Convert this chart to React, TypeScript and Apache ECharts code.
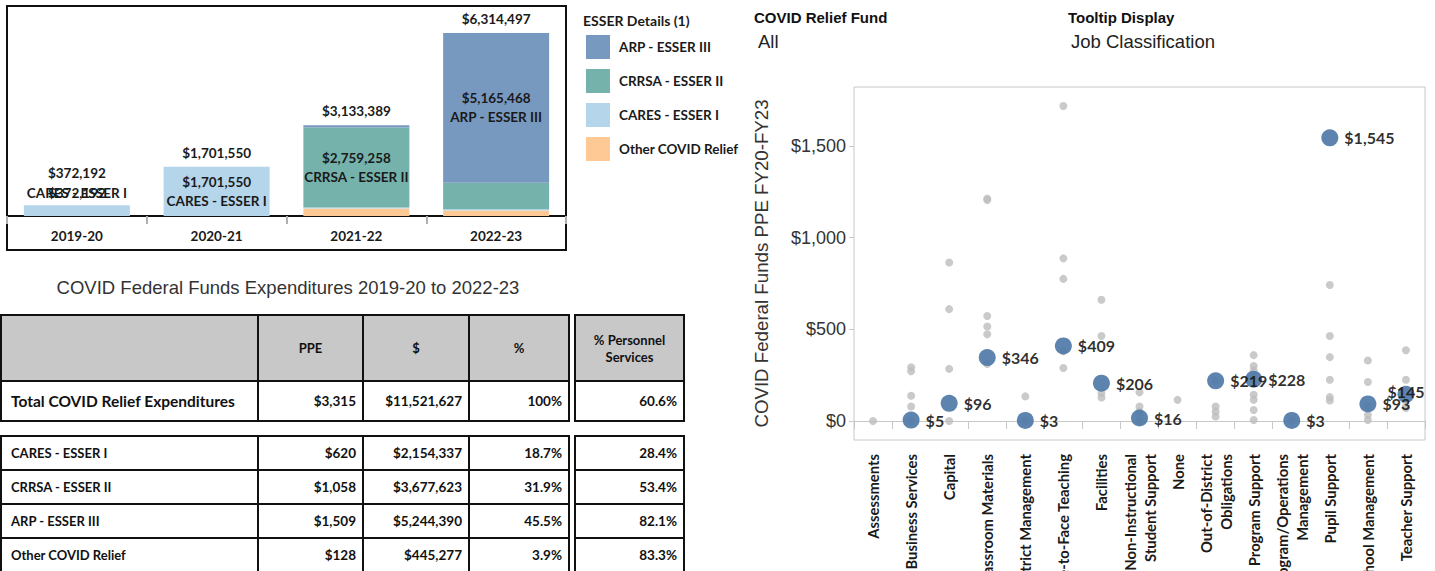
import React, { useEffect, useRef } from 'react';
import * as echarts from 'echarts';

// ---------- Bar chart data ----------
const years = ['2019-20', '2020-21', '2021-22', '2022-23'];
const fundNames = ['Other COVID Relief', 'CARES - ESSER I', 'CRRSA - ESSER II', 'ARP - ESSER III'];
const otherRelief = [0, 0, 255209, 190069];
const caresEsser1 = [372192, 1701550, 40000, 40595];
const crrsaEsser2 = [0, 0, 2759258, 918365];
const arpEsser3 = [0, 0, 78922, 5165468];
const yearTotals = [372192, 1701550, 3133389, 6314497];
const legendOrder = ['ARP - ESSER III', 'CRRSA - ESSER II', 'CARES - ESSER I', 'Other COVID Relief'];

// ---------- Table data ----------
const tableHeader = ['', 'PPE', '$', '%', '% Personnel\nServices'];
const totalLabel = 'Total COVID Relief Expenditures';
const totalPPE = 3315;
const totalDollars = 11521627;
const totalPct = 100;
const totalPersonnel = 60.6;
const fundRows = ['CARES - ESSER I', 'CRRSA - ESSER II', 'ARP - ESSER III', 'Other COVID Relief'];
const fundPPE = [620, 1058, 1509, 128];
const fundDollars = [2154337, 3677623, 5244390, 445277];
const fundPct = [18.7, 31.9, 45.5, 3.9];
const fundPersonnel = [28.4, 53.4, 82.1, 83.3];

// ---------- Scatter data ----------
const jobClasses = [
  'Assessments',
  'Business Services',
  'Capital',
  'Classroom Materials',
  'District Management',
  'Face-to-Face Teaching',
  'Facilities',
  'Non-Instructional\nStudent Support',
  'None',
  'Out-of-District\nObligations',
  'Program Support',
  'Program/Operations\nManagement',
  'Pupil Support',
  'School Management',
  'Teacher Support',
];
const avgPPE: (number | null)[] = [null, 5, 96, 346, 3, 409, 206, 16, null, 219, 228, 3, 1545, 93, 145];
const detailPPE: number[][] = [
  [0],
  [293, 271, 137, 79, 0],
  [864, 610, 284, 0],
  [1213, 1205, 573, 515, 473, 311],
  [134, 0],
  [1718, 887, 775, 380, 289],
  [661, 463, 152, 128],
  [157, 79, 51, 0],
  [115],
  [79, 51, 24, 219],
  [359, 300, 275, 247, 143, 115, 60, 5],
  [0],
  [742, 463, 348, 225, 130, 112],
  [330, 212, 79, 33, 5],
  [386, 225, 79, 70],
];
const yTicks = [0, 500, 1000, 1500];

// ---------- Styles ----------
const LATO = 'Lato, "Noto Sans", sans-serif';
const ARIAL = '"Liberation Sans", Arial, sans-serif';
const fundColors = ['#fec994', '#b5d5eb', '#75b2ac', '#7899bf'];

const money = (v: number) => '$' + Math.round(v).toLocaleString('en-US');
const pct = (v: number) => (v === 100 ? '100%' : v.toFixed(1) + '%');

function buildTable() {
  const els: any[] = [];
  const cols = [
    [1, 258],
    [258, 363],
    [363, 469],
    [469, 569],
    [575, 684],
  ];
  const cell = (c: number, y0: number, y1: number, fill: string) => {
    els.push({
      type: 'rect',
      shape: { x: cols[c][0], y: y0, width: cols[c][1] - cols[c][0], height: y1 - y0 },
      style: { fill, stroke: '#111', lineWidth: 2 },
    });
  };
  const text = (t: string, x: number, y: number, align: string, size: number) => {
    els.push({
      type: 'text',
      x,
      y,
      z: 10,
      style: {
        text: t,
        align,
        verticalAlign: 'middle',
        fontFamily: LATO,
        fontWeight: 'bold',
        fontSize: size,
        lineHeight: 17,
        fill: '#111',
      },
    });
  };
  // header
  const hy0 = 315, hy1 = 381;
  for (let c = 0; c < 5; c++) {
    cell(c, hy0, hy1, '#c8c8c8');
    if (tableHeader[c]) text(tableHeader[c], (cols[c][0] + cols[c][1]) / 2, (hy0 + hy1) / 2, 'center', 13);
  }
  // total row
  const ty0 = 381, ty1 = 421;
  const totalVals = [totalLabel, money(totalPPE), money(totalDollars), pct(totalPct), pct(totalPersonnel)];
  for (let c = 0; c < 5; c++) {
    cell(c, ty0, ty1, '#ffffff');
    if (c === 0) text(totalVals[c], cols[c][0] + 10, (ty0 + ty1) / 2, 'left', 15.5);
    else text(totalVals[c], cols[c][1] - 7, (ty0 + ty1) / 2, 'right', 13.5);
  }
  // fund rows
  const ry0 = 436, rh = 34;
  fundRows.forEach((name, r) => {
    const y0 = ry0 + r * rh, y1 = y0 + rh;
    const vals = [name, money(fundPPE[r]), money(fundDollars[r]), pct(fundPct[r]), pct(fundPersonnel[r])];
    for (let c = 0; c < 5; c++) {
      cell(c, y0, y1, '#ffffff');
      if (c === 0) text(vals[c], cols[c][0] + 10, (y0 + y1) / 2, 'left', 13);
      else text(vals[c], cols[c][1] - 7, (y0 + y1) / 2, 'right', 13.5);
    }
  });
  return els;
}

function buildOption() {
  const fundData = [otherRelief, caresEsser1, crrsaEsser2, arpEsser3];
  const maxTotal = Math.max(...yearTotals);
  const largest = years.map((_, i) => {
    let best = 0;
    fundData.forEach((d, k) => {
      if (d[i] > fundData[best][i]) best = k;
    });
    return best;
  });
  const barLabel = {
    fontFamily: LATO,
    fontWeight: 'bold',
    fontSize: 13.5,
    color: '#1a1a1a',
    lineHeight: 20,
  };

  const barSeries: any[] = fundData.map((d, k) => ({
    type: 'bar',
    name: fundNames[k],
    stack: 'fund',
    xAxisIndex: 0,
    yAxisIndex: 0,
    barWidth: 106,
    barGap: '-100%',
    itemStyle: { color: fundColors[k] },
    data: d.map((v, i) => {
      if (largest[i] !== k) return v;
      const small = v / maxTotal < 0.1;
      return {
        value: v,
        label: {
          show: true,
          position: small ? 'top' : 'inside',
          distance: 2,
          formatter: small ? fundNames[k] : `${money(v)}\n${fundNames[k]}`,
          ...barLabel,
          lineHeight: small ? 20 : 19,
        },
      };
    }),
  }));

  barSeries.push({
    type: 'bar',
    name: 'Total',
    xAxisIndex: 0,
    yAxisIndex: 0,
    barWidth: 106,
    barGap: '-100%',
    itemStyle: { color: 'rgba(0,0,0,0)' },
    silent: true,
    z: 3,
    data: yearTotals.map((v) => {
      const small = v / maxTotal < 0.1;
      return {
        value: v,
        label: {
          show: true,
          position: 'top',
          distance: small ? 2 : 4,
          formatter: small ? `${money(v)}\n${money(v)}` : money(v),
          ...barLabel,
        },
      };
    }),
  });

  const grayData: number[][] = [];
  detailPPE.forEach((arr, i) => arr.forEach((v) => grayData.push([i, v])));
  const blueData: any[] = [];
  avgPPE.forEach((v, i) => {
    if (v === null) return;
    const last = i === jobClasses.length - 1;
    blueData.push(
      last
        ? { value: [i, v], label: { position: 'inside', offset: [0, -3] } }
        : { value: [i, v] }
    );
  });

  const graphic: any[] = [
    // bar chart panel border
    {
      type: 'rect',
      shape: { x: 7, y: 6, width: 559, height: 244 },
      style: { fill: 'none', stroke: '#111', lineWidth: 2 },
      z: 0,
    },
    {
      type: 'text',
      x: 583,
      y: 20,
      style: {
        text: 'ESSER Details (1)',
        fontFamily: LATO,
        fontWeight: 'bold',
        fontSize: 14,
        fill: '#1a1a1a',
        align: 'left',
        verticalAlign: 'middle',
      },
    },
    {
      type: 'text',
      x: 288,
      y: 287,
      style: {
        text: 'COVID Federal Funds Expenditures 2019-20 to 2022-23',
        fontFamily: ARIAL,
        fontSize: 18.5,
        fill: '#333',
        align: 'center',
        verticalAlign: 'middle',
      },
    },
    {
      type: 'text',
      x: 754,
      y: 17,
      style: { text: 'COVID Relief Fund', fontFamily: ARIAL, fontWeight: 'bold', fontSize: 15, fill: '#111', align: 'left', verticalAlign: 'middle' },
    },
    {
      type: 'text',
      x: 758,
      y: 41,
      style: { text: 'All', fontFamily: ARIAL, fontSize: 18.5, fill: '#222', align: 'left', verticalAlign: 'middle' },
    },
    {
      type: 'text',
      x: 1068,
      y: 17,
      style: { text: 'Tooltip Display', fontFamily: ARIAL, fontWeight: 'bold', fontSize: 15, fill: '#111', align: 'left', verticalAlign: 'middle' },
    },
    {
      type: 'text',
      x: 1071,
      y: 41,
      style: { text: 'Job Classification', fontFamily: ARIAL, fontSize: 18.5, fill: '#222', align: 'left', verticalAlign: 'middle' },
    },
    ...buildTable(),
  ];

  return {
    animation: false,
    backgroundColor: '#ffffff',
    graphic,
    legend: {
      data: legendOrder,
      orient: 'vertical',
      left: 586,
      top: 35,
      padding: 0,
      itemWidth: 24,
      itemHeight: 24,
      itemGap: 10,
      icon: 'rect',
      selectedMode: false,
      textStyle: {
        fontFamily: LATO,
        fontWeight: 'bold',
        fontSize: 13.5,
        color: '#1a1a1a',
        padding: [0, 0, 0, 4],
      },
    },
    grid: [
      { left: 7, top: 10, width: 559, height: 206, outerBoundsMode: 'none', containLabel: false },
      {
        left: 854,
        top: 87,
        width: 571,
        height: 353,
        show: true,
        borderColor: '#c8c8c8',
        borderWidth: 1,
        outerBoundsMode: 'none',
        containLabel: false,
      },
    ],
    xAxis: [
      {
        gridIndex: 0,
        type: 'category',
        data: years,
        axisLine: { lineStyle: { color: '#111', width: 2 } },
        axisTick: { show: true, alignWithLabel: false, interval: 0, length: 8, lineStyle: { color: '#b0b0b0', width: 2 } },
        axisLabel: { fontFamily: LATO, fontWeight: 'bold', fontSize: 13.5, color: '#1a1a1a', margin: 13 },
      },
      {
        gridIndex: 1,
        type: 'category',
        data: jobClasses,
        axisLine: { lineStyle: { color: '#c8c8c8', width: 1 } },
        axisTick: { show: true, alignWithLabel: false, interval: 0, length: 8, lineStyle: { color: '#c8c8c8' } },
        axisLabel: {
          rotate: 90,
          interval: 0,
          margin: 14,
          fontFamily: LATO,
          fontWeight: 'bold',
          fontSize: 14.8,
          lineHeight: 20,
          color: '#1a1a1a',
        },
        splitLine: { show: false },
      },
    ],
    yAxis: [
      { gridIndex: 0, type: 'value', min: 0, max: 7108000, show: false },
      {
        gridIndex: 1,
        type: 'value',
        min: -104,
        max: 1822,
        name: 'COVID Federal Funds PPE FY20-FY23',
        nameLocation: 'middle',
        nameGap: 83,
        nameTextStyle: { fontFamily: ARIAL, fontSize: 18.7, color: '#333' },
        axisLine: { show: false },
        axisTick: { show: true, length: 5, customValues: yTicks, lineStyle: { color: '#c8c8c8' } },
        axisLabel: {
          customValues: yTicks,
          margin: 8,
          fontFamily: ARIAL,
          fontSize: 18,
          color: '#333',
          formatter: (v: number) => money(v),
        },
        splitLine: { show: false },
      },
    ],
    series: [
      ...barSeries,
      {
        type: 'scatter',
        name: 'Detail',
        xAxisIndex: 1,
        yAxisIndex: 1,
        symbolSize: 8,
        itemStyle: { color: '#bdbdbd' },
        data: grayData,
        z: 2,
      },
      {
        type: 'scatter',
        name: 'Average',
        xAxisIndex: 1,
        yAxisIndex: 1,
        symbolSize: 17,
        itemStyle: { color: '#4e79a7', opacity: 0.92 },
        data: blueData,
        z: 3,
        label: {
          show: true,
          position: 'right',
          distance: 6,
          fontFamily: LATO,
          fontWeight: 'bold',
          fontSize: 16,
          color: '#1a1a1a',
          formatter: (p: any) => money(p.value[1]),
        },
      },
    ],
  };
}

export default function App() {
  const ref = useRef<HTMLDivElement>(null);
  useEffect(() => {
    if (!ref.current) return;
    const chart = echarts.init(ref.current, undefined, { renderer: 'svg' });
    chart.setOption(buildOption() as any);
    return () => chart.dispose();
  }, []);
  return (
    <div
      ref={ref}
      style={{ position: 'absolute', left: 0, top: 0, width: 1435, height: 571, background: '#fff' }}
    />
  );
}
